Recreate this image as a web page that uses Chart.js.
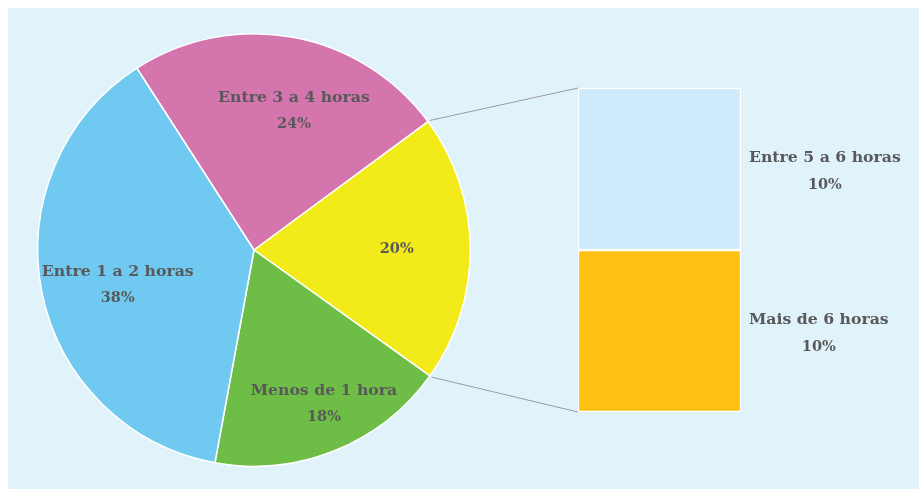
<!DOCTYPE html>
<html>
<head>
<meta charset="utf-8">
<script src="https://cdn.jsdelivr.net/npm/chart.js@4.4.1/dist/chart.umd.min.js"></script>
<style>
  html, body { margin: 0; padding: 0; background: #ffffff; }
  #wrap { position: relative; width: 919px; height: 489px; overflow: hidden; }
  #panel { position: absolute; left: 8px; top: 8px; right: 0; bottom: 0; background: #e0f3fa; }
  canvas { position: absolute; left: 0; top: 0; }
</style>
</head>
<body>
<div id="wrap">
  <div id="panel"></div>
  <canvas id="pieChart" width="919" height="489"></canvas>
  <canvas id="barChart" width="919" height="489"></canvas>
</div>
<script>
// pie slices (clockwise, starting at the pink slice)
const pieLabels = ['Entre 3 a 4 horas', '', 'Menos de 1 hora', 'Entre 1 a 2 horas'];
const pieValues = [24, 20, 18, 38];
const pieColors = ['#d475ae', '#f2ea19', '#6dbd46', '#6fc9f1'];

// the 20% slice split into the stacked bar (bottom to top)
const barLabels = ['Mais de 6 horas', 'Entre 5 a 6 horas'];
const barValues = [10, 10];
const barColors = ['#fcc113', '#cfeafb'];

const textColor = '#59595b';
const labelFont = 'bold 15.7px "DejaVu Serif", "Liberation Serif", serif';
const pctFont = 'bold 14.5px "DejaVu Serif", "Liberation Serif", serif';

// placement of the pie labels: fraction of the radius, turn in degrees
const pieLabelDist = [0.67, 0.66, 0.78, 0.65];
const pieLabelTurn = [5.6, 0, -2.5, -3];

const pieLabelPlugin = {
    id: 'pieLabels',
    afterDatasetsDraw(chart) {
        const ctx = chart.ctx;
        const arcs = chart.getDatasetMeta(0).data;
        ctx.save();
        ctx.fillStyle = textColor;
        ctx.textAlign = 'center';
        ctx.textBaseline = 'middle';
        arcs.forEach((arc, i) => {
            const mid = (arc.startAngle + arc.endAngle) / 2 + pieLabelTurn[i] * Math.PI / 180;
            const d = arc.outerRadius * pieLabelDist[i];
            const x = arc.x + Math.cos(mid) * d;
            const y = arc.y + Math.sin(mid) * d;
            const pct = pieValues[i] + '%';
            if (pieLabels[i]) {
                ctx.font = labelFont;
                ctx.fillText(pieLabels[i], x, y - 13);
                ctx.font = pctFont;
                ctx.fillText(pct, x, y + 14);
            } else {
                ctx.font = pctFont;
                ctx.fillText(pct, x, y);
            }
        });
        ctx.restore();
    }
};

const pieChart = new Chart(document.getElementById('pieChart'), {
    type: 'pie',
    data: {
        labels: pieLabels,
        datasets: [{
            data: pieValues,
            backgroundColor: pieColors,
            borderColor: '#ffffff',
            borderWidth: 1.5
        }]
    },
    options: {
        responsive: false,
        animation: false,
        rotation: -32.8,
        layout: { padding: { left: 37, top: 33, right: 448, bottom: 22 } },
        plugins: { legend: { display: false }, tooltip: { enabled: false } }
    },
    plugins: [pieLabelPlugin]
});

const connectorPlugin = {
    id: 'connectors',
    beforeDatasetsDraw(chart) {
        const arc = pieChart.getDatasetMeta(0).data[1];
        const bars = chart.getDatasetMeta(0).data.concat(chart.getDatasetMeta(1).data);
        const left = bars[0].x - bars[0].width / 2;
        const top = Math.min(...bars.map(b => b.y));
        const bottom = Math.max(...bars.map(b => b.base));
        const r = arc.outerRadius + 2;
        const ctx = chart.ctx;
        ctx.save();
        ctx.strokeStyle = '#9c9c9c';
        ctx.lineWidth = 1;
        ctx.beginPath();
        ctx.moveTo(arc.x + Math.cos(arc.startAngle) * r, arc.y + Math.sin(arc.startAngle) * r);
        ctx.lineTo(left, top);
        ctx.moveTo(arc.x + Math.cos(arc.endAngle) * r, arc.y + Math.sin(arc.endAngle) * r);
        ctx.lineTo(left, bottom);
        ctx.stroke();
        ctx.restore();
    },
    afterDatasetsDraw(chart) {
        const ctx = chart.ctx;
        ctx.save();
        ctx.fillStyle = textColor;
        ctx.textBaseline = 'middle';
        barLabels.forEach((lbl, i) => {
            const bar = chart.getDatasetMeta(i).data[0];
            const x = bar.x + bar.width / 2 + 8;
            const y = (bar.y + bar.base) / 2 + 2;
            ctx.font = labelFont;
            const w = ctx.measureText(lbl).width;
            ctx.textAlign = 'left';
            ctx.fillText(lbl, x, y - 13);
            ctx.font = pctFont;
            ctx.textAlign = 'center';
            ctx.fillText(barValues[i] + '%', x + w / 2, y + 14);
        });
        ctx.restore();
    }
};

new Chart(document.getElementById('barChart'), {
    type: 'bar',
    data: {
        labels: [''],
        datasets: barLabels.map((lbl, i) => ({
            label: lbl,
            data: [barValues[i]],
            backgroundColor: barColors[i],
            borderColor: '#ffffff',
            borderWidth: 1.5,
            borderSkipped: false,
            barPercentage: 1,
            categoryPercentage: 1
        }))
    },
    options: {
        responsive: false,
        animation: false,
        layout: { padding: { left: 578, top: 88, right: 178, bottom: 77 } },
        scales: {
            x: { stacked: true, display: false },
            y: { stacked: true, display: false, min: 0, max: 20 }
        },
        plugins: { legend: { display: false }, tooltip: { enabled: false } }
    },
    plugins: [connectorPlugin]
});
</script>
</body>
</html>
